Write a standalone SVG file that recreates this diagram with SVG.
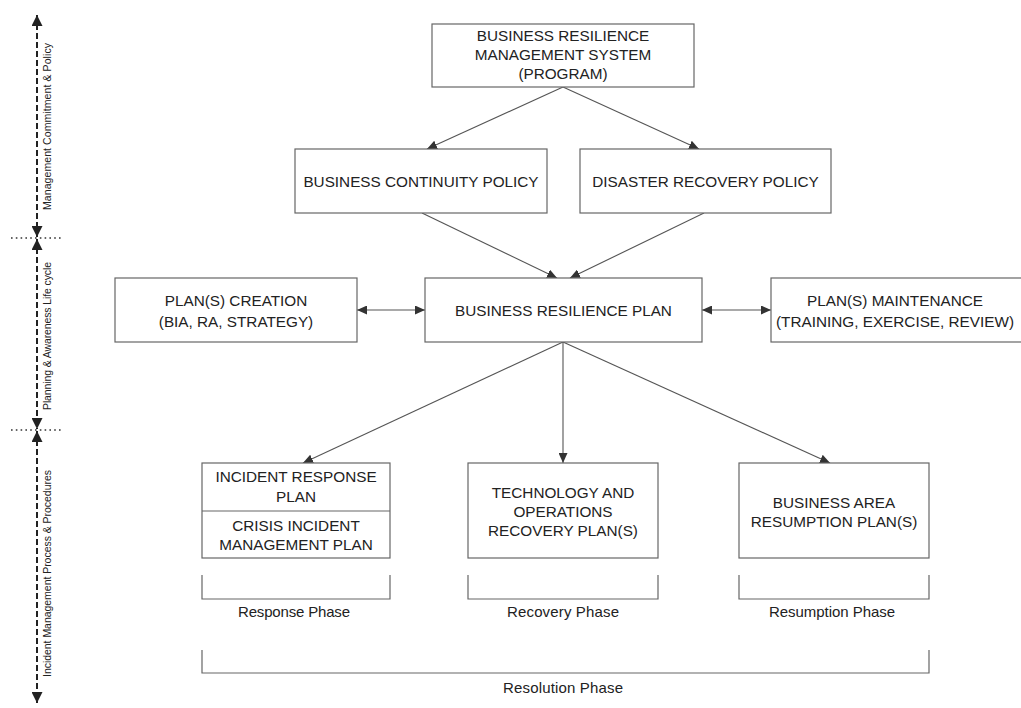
<svg xmlns="http://www.w3.org/2000/svg" width="1021" height="708" viewBox="0 0 1021 708">
<style>
.box{fill:#fff;stroke:#666;stroke-width:1.2}
.t{font-family:"Liberation Sans",Arial,sans-serif;font-size:15.3px;fill:#222;text-anchor:middle}
.ph{font-family:"Liberation Sans",Arial,sans-serif;font-size:15px;fill:#222;text-anchor:middle}
.ax{font-family:"Liberation Sans",Arial,sans-serif;font-size:10.5px;fill:#222;text-anchor:middle}
.c{fill:none;stroke:#555;stroke-width:1.1}
.br{fill:none;stroke:#666;stroke-width:1.2}
.axis{fill:none;stroke:#222;stroke-width:2;stroke-dasharray:6 3}
.dot{fill:none;stroke:#333;stroke-width:1.6;stroke-dasharray:1.6 3.2}
</style>
<defs>
<marker id="ah" markerUnits="userSpaceOnUse" markerWidth="11" markerHeight="9" refX="10" refY="4.5" orient="auto-start-reverse">
<path d="M0,0 L10,4.5 L0,9 z" fill="#333"/>
</marker>
<marker id="axh" markerUnits="userSpaceOnUse" markerWidth="12" markerHeight="11" refX="11" refY="5.5" orient="auto-start-reverse">
<path d="M0,0 L11,5.5 L0,11 z" fill="#222"/>
</marker>
</defs>
<rect width="1021" height="708" fill="#fff"/>

<g id="axis">
<line class="axis" x1="37" y1="15" x2="37" y2="237" marker-start="url(#axh)" marker-end="url(#axh)"/>
<line class="axis" x1="37" y1="239" x2="37" y2="429" marker-start="url(#axh)" marker-end="url(#axh)"/>
<line class="axis" x1="37" y1="431" x2="37" y2="703" marker-start="url(#axh)" marker-end="url(#axh)"/>
<line class="dot" x1="11" y1="238" x2="63" y2="238"/>
<line class="dot" x1="11" y1="430" x2="63" y2="430"/>
<text class="ax" transform="translate(51,126.5) rotate(-90)" textLength="167">Management Commitment &amp; Policy</text>
<text class="ax" transform="translate(51,336) rotate(-90)" textLength="148">Planning &amp; Awareness Life cycle</text>
<text class="ax" transform="translate(51,573.5) rotate(-90)" textLength="207">Incident Management Process &amp; Procedures</text>
</g>

<g id="connectors">
<line class="c" x1="563" y1="87" x2="427" y2="149" marker-end="url(#ah)"/>
<line class="c" x1="563" y1="87" x2="699" y2="149" marker-end="url(#ah)"/>
<line class="c" x1="422" y1="213" x2="557" y2="278" marker-end="url(#ah)"/>
<line class="c" x1="704" y1="213" x2="570" y2="278" marker-end="url(#ah)"/>
<line class="c" x1="357" y1="310" x2="425" y2="310" marker-start="url(#ah)" marker-end="url(#ah)"/>
<line class="c" x1="702" y1="310" x2="771" y2="310" marker-start="url(#ah)" marker-end="url(#ah)"/>
<line class="c" x1="563" y1="342" x2="303" y2="463" marker-end="url(#ah)"/>
<line class="c" x1="563" y1="342" x2="563" y2="463" marker-end="url(#ah)"/>
<line class="c" x1="563" y1="342" x2="830" y2="463" marker-end="url(#ah)"/>
</g>

<g id="brms">
<rect class="box" x="432" y="24" width="262" height="63"/>
<text class="t" x="563" y="41">BUSINESS RESILIENCE</text>
<text class="t" x="563" y="60">MANAGEMENT SYSTEM</text>
<text class="t" x="563" y="79">(PROGRAM)</text>
</g>

<g id="bcp">
<rect class="box" x="295" y="149" width="252" height="64"/>
<text class="t" x="421" y="186.5">BUSINESS CONTINUITY POLICY</text>
</g>

<g id="drp">
<rect class="box" x="580" y="149" width="251" height="64"/>
<text class="t" x="705.5" y="186.5">DISASTER RECOVERY POLICY</text>
</g>

<g id="creation">
<rect class="box" x="115" y="278" width="242" height="64"/>
<text class="t" x="236" y="306">PLAN(S) CREATION</text>
<text class="t" x="236" y="327">(BIA, RA, STRATEGY)</text>
</g>

<g id="brp">
<rect class="box" x="425" y="278" width="277" height="64"/>
<text class="t" x="563.5" y="315.5">BUSINESS RESILIENCE PLAN</text>
</g>

<g id="maintenance">
<rect class="box" x="771" y="278" width="260" height="64"/>
<text class="t" x="895" y="306">PLAN(S) MAINTENANCE</text>
<text class="t" x="895" y="327">(TRAINING, EXERCISE, REVIEW)</text>
</g>

<g id="incident">
<rect class="box" x="202" y="463" width="188" height="95"/>
<line class="br" x1="202" y1="511" x2="390" y2="511"/>
<text class="t" x="296" y="482">INCIDENT RESPONSE</text>
<text class="t" x="296" y="502">PLAN</text>
<text class="t" x="296" y="531">CRISIS INCIDENT</text>
<text class="t" x="296" y="550">MANAGEMENT PLAN</text>
</g>

<g id="technology">
<rect class="box" x="468" y="463" width="190" height="95"/>
<text class="t" x="563" y="498">TECHNOLOGY AND</text>
<text class="t" x="563" y="517">OPERATIONS</text>
<text class="t" x="563" y="536">RECOVERY PLAN(S)</text>
</g>

<g id="business-area">
<rect class="box" x="739" y="463" width="190" height="95"/>
<text class="t" x="834" y="508">BUSINESS AREA</text>
<text class="t" x="834" y="527">RESUMPTION PLAN(S)</text>
</g>

<g id="phases">
<path class="br" d="M202,575 V599 H390 V575"/>
<path class="br" d="M468,575 V599 H658 V575"/>
<path class="br" d="M739,575 V599 H929 V575"/>
<path class="br" d="M202,650 V673 H929 V650"/>
<text class="ph" x="294" y="617" textLength="112">Response Phase</text>
<text class="ph" x="563" y="617" textLength="112">Recovery Phase</text>
<text class="ph" x="832" y="617" textLength="126">Resumption Phase</text>
<text class="ph" x="563" y="693" textLength="120">Resolution Phase</text>
</g>
</svg>
